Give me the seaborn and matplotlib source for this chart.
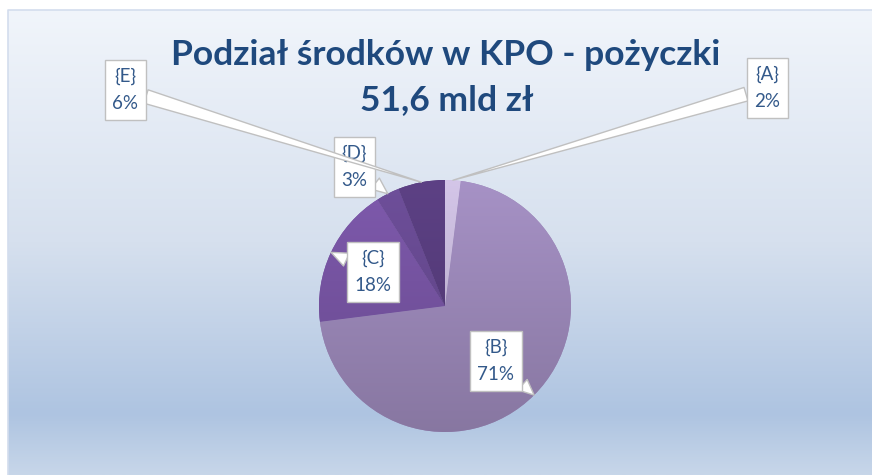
import numpy as np
import seaborn as sns
import matplotlib.pyplot as plt
from matplotlib.colors import LinearSegmentedColormap, to_rgb

# data
categories = ['{A}', '{B}', '{C}', '{D}', '{E}']
shares = [2, 71, 18, 3, 6]
title_line1 = 'Podział środków w KPO - pożyczki'
title_line2 = '51,6 mld zł'

sns.set_theme(style='white')
plt.rcParams['font.family'] = ['Lato', 'DejaVu Sans']

W, H = 872, 475
fig = plt.figure(figsize=(W / 100, H / 100), dpi=100)

# background panel with vertical gradient
bg = fig.add_axes([0, 0, 1, 1])
bg.set_xlim(0, W)
bg.set_ylim(H, 0)
bg.axis('off')
grad_cmap = LinearSegmentedColormap.from_list(
    'panel', [(0, '#f1f5fb'), (0.5, '#d6e0ee'), (0.87, '#aec4e1'), (1, '#c7d6e9')])
grad = np.linspace(0, 1, 256).reshape(-1, 1)
bg.imshow(grad, cmap=grad_cmap, aspect='auto', extent=(8, W, H, 10), zorder=0)
bg.plot([8, 8, W], [H, 10, 10], color='#d3dded', lw=1.2, zorder=1)

# pie
cx, cy, r = 445, 306, 126
ax = fig.add_axes([(cx - r) / W, (H - cy - r) / H, 2 * r / W, 2 * r / H])
colors = sns.color_palette(['#c4b7d7', '#9a87b7', '#7553a0', '#66498f', '#563c7b'])
wedges, _ = ax.pie(shares, colors=colors, startangle=90, counterclock=False,
                   wedgeprops=dict(linewidth=0))
# vertical shading on each slice
for w, c in zip(wedges, colors):
    base = np.array(to_rgb(c))
    top = np.clip(base * 1.08, 0, 1)
    bot = base * 0.88
    cm = LinearSegmentedColormap.from_list('s', [bot, top])
    im = ax.imshow(np.linspace(0, 1, 128).reshape(-1, 1), cmap=cm, origin='lower',
                   extent=(-1, 1, -1, 1), aspect='auto', zorder=2)
    im.set_clip_path(w)
ax.set_xlim(-1, 1)
ax.set_ylim(-1, 1)
ax.set_aspect('equal')
ax.axis('off')

# callout boxes (pixel centres, measured from the top)
box_pos = [(767, 88), (496, 361), (373, 272), (354, 167), (125, 90)]
txt_color = '#33598a'
for w, cat, val, (bx, by) in zip(wedges, categories, shares, box_pos):
    ang = np.deg2rad((w.theta1 + w.theta2) / 2)
    tip = (np.cos(ang), np.sin(ang))
    ax.annotate(f'{cat}\n{val}%', xy=tip, xycoords='data',
                xytext=(bx, H - by), textcoords='figure pixels',
                ha='center', va='center', fontsize=13.5, color=txt_color,
                linespacing=1.7, annotation_clip=False,
                bbox=dict(boxstyle='square,pad=0.4', fc='white', ec='#c0c0c0', lw=1),
                arrowprops=dict(arrowstyle='wedge,tail_width=0.75,shrink_factor=0.5',
                                fc='white', ec='#c0c0c0', lw=1, shrinkA=0, shrinkB=0),
                zorder=5)

# title
fig.text(446 / W, 1 - 55 / H, title_line1, ha='center', va='center',
         fontsize=25.5, fontweight='bold', color='#1f497d')
fig.text(447 / W, 1 - 100 / H, title_line2, ha='center', va='center',
         fontsize=25.5, fontweight='bold', color='#1f497d')

fig.savefig('out.png', dpi=100)
